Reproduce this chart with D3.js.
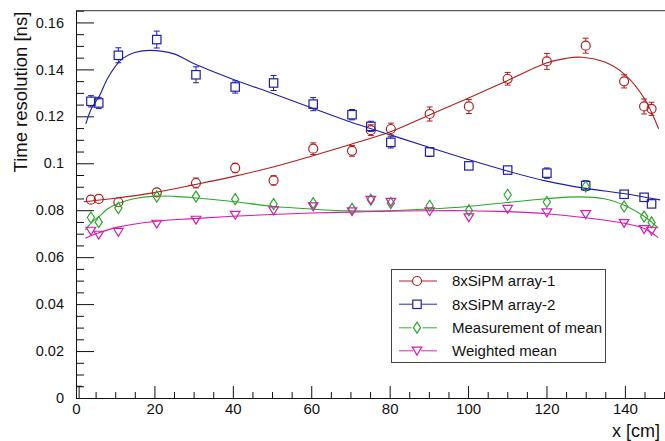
<!DOCTYPE html>
<html>
<head>
<meta charset="utf-8">
<script src="https://cdn.jsdelivr.net/npm/d3@7"></script>
<style>
body{margin:0;background:#fff;}
svg{display:block;font-family:"Liberation Sans",Arial,sans-serif;}
</style>
</head>
<body>
<svg width="665" height="441"></svg>
<script>

// positions along the bar [cm]
var xPos=[3.8,5.8,10.8,20.6,30.6,40.6,50.4,60.5,70.4,75.2,80.3,90.2,100.2,110.1,120.1,130,139.8,144.9,146.8];

// time resolution [ns]
var array1=[0.0845,0.0848,0.0834,0.0876,0.0916,0.0980,0.0927,0.1062,0.1053,0.1141,0.1146,0.1210,0.1242,0.1360,0.1434,0.1501,0.1349,0.1242,0.1232];
var array1Err=[0.0012,0.0012,0.0013,0.0016,0.0021,0.0020,0.0020,0.0025,0.0023,0.0023,0.0025,0.0030,0.0030,0.0027,0.0034,0.0032,0.0028,0.0032,0.0028];
var array2=[0.1264,0.1257,0.1460,0.1527,0.1377,0.1325,0.1342,0.1252,0.1207,0.1157,0.1089,0.1048,0.0989,0.0971,0.0958,0.0905,0.0868,0.0855,0.0827];
var array2Err=[0.0024,0.0024,0.0032,0.0036,0.0034,0.0026,0.0032,0.0028,0.0022,0.0022,0.0024,0.0019,0.0017,0.0017,0.0022,0.0021,0.0017,0.0017,0.0015];
var meanMeas=[0.0769,0.0749,0.0809,0.0858,0.0858,0.0847,0.0826,0.0830,0.0806,0.0845,0.0830,0.0819,0.0799,0.0866,0.0835,0.0901,0.0816,0.0773,0.0748];
var meanMeasErr=[0.0010,0.0010,0.0012,0.0012,0.0012,0.0010,0.0012,0.0012,0.0010,0.0010,0.0012,0.0012,0.0010,0.0013,0.0012,0.0014,0.0012,0.0010,0.0010];
var weighted=[0.0712,0.0695,0.0707,0.0742,0.0759,0.0780,0.0799,0.0816,0.0795,0.0844,0.0835,0.0795,0.0769,0.0805,0.0790,0.0783,0.0745,0.0719,0.0712];
var weightedErr=[0.0004,0.0004,0.0004,0.0004,0.0004,0.0004,0.0004,0.0004,0.0004,0.0004,0.0004,0.0004,0.0004,0.0004,0.0004,0.0004,0.0004,0.0004,0.0004];

// fitted curves
var fit1=[[2,0.0836],[10,0.0851],[20,0.0875],[30,0.0908],[40,0.0943],[50,0.0983],[60,0.1030],[70,0.1080],[80,0.1133],[90,0.1205],[100,0.1277],[110,0.1352],[120,0.1427],[125,0.1447],[129,0.1452],[135,0.1430],[140,0.1378],[145,0.1275],[148.6,0.1147]];
var fit2=[[2.5,0.1168],[4,0.1235],[6,0.1288],[8,0.1360],[10,0.1412],[12,0.1448],[15,0.1472],[19,0.1481],[25,0.1466],[30,0.1425],[40,0.1358],[50,0.1298],[60,0.1237],[70,0.1176],[80,0.1122],[90,0.1068],[100,0.1016],[110,0.0967],[120,0.0924],[130,0.0893],[140,0.0870],[149,0.0844]];
var fitMean=[[2.4,0.0716],[4,0.0748],[6,0.0775],[8,0.0805],[10.6,0.0828],[15,0.0850],[20,0.0860],[25,0.0859],[30,0.0853],[40,0.0837],[50,0.0817],[60,0.0805],[70,0.0797],[80,0.0798],[90,0.0805],[100,0.0816],[110,0.0833],[120,0.0849],[128,0.0857],[135,0.0848],[140,0.0820],[145,0.0773],[148.5,0.0724]];
var fitWeighted=[[2.4,0.0681],[6,0.0705],[10.6,0.0728],[20,0.0752],[30,0.0764],[40,0.0774],[50,0.0782],[60,0.0788],[70,0.0792],[80,0.0796],[90,0.0798],[100,0.0798],[110,0.0794],[120,0.0785],[130,0.0768],[140,0.0744],[145,0.0722],[148.5,0.0683]];

// lone error bar sitting on the x axis
var strayX=[0.8], strayY=[0], strayErr=[0.005];

var xTicks=[0,20,40,60,80,100,120,140];
var xLabels=["0","20","40","60","80","100","120","140"];
var yTicks=[0,0.02,0.04,0.06,0.08,0.1,0.12,0.14,0.16];
var yLabels=["0","0.02","0.04","0.06","0.08","0.1","0.12","0.14","0.16"];

var names=["8xSiPM array-1","8xSiPM array-2","Measurement of mean","Weighted mean"];
var colors=["#b01e1e","#1e1eaa","#2aa82a","#d61ab0"];

var svg=d3.select("svg");
var x=d3.scaleLinear().domain([0,151]).range([76,76+151*3.9207]);
var y=d3.scaleLinear().domain([0,0.165]).range([398,10.7]);

//minor ticks
var xMinor=d3.range(5,151,5).filter(function(v){return v%20!=0;});
var yMinor=d3.range(0,0.1651,0.005).filter(function(v){return Math.abs(v/0.02-Math.round(v/0.02))>0.01;});

svg.append("g")
  .attr("transform","translate(0,398)")
  .call(d3.axisBottom(x).tickValues(xMinor).tickSize(-6).tickSizeOuter(0).tickFormat(""))
  .call(function(g){g.select(".domain").remove();});
svg.append("g")
  .attr("transform","translate(76,0)")
  .call(d3.axisLeft(y).tickValues(yMinor).tickSize(-8).tickSizeOuter(0).tickFormat(""))
  .call(function(g){g.select(".domain").remove();});

var xa=svg.append("g")
  .attr("transform","translate(0,398)")
  .call(d3.axisBottom(x).tickValues(xTicks).tickSize(-12).tickSizeOuter(0).tickPadding(5)
    .tickFormat(function(d,i){return xLabels[i];}));
var ya=svg.append("g")
  .attr("transform","translate(76,0)")
  .call(d3.axisLeft(y).tickValues(yTicks).tickSize(-18).tickSizeOuter(0).tickPadding(12)
    .tickFormat(function(d,i){return yLabels[i];}));

svg.selectAll(".tick line").attr("stroke","#111");
svg.selectAll(".domain").attr("stroke","#111");
svg.selectAll(".tick text").attr("fill","#111").style("font-family","'Liberation Sans',Arial,sans-serif");
xa.selectAll(".tick text").style("font-size","15px");
ya.selectAll(".tick text").style("font-size","14.5px");

// top frame
svg.append("line")
  .attr("x1",x(0)).attr("x2",x(151))
  .attr("y1",y(0.165)).attr("y2",y(0.165))
  .attr("stroke","#333");

// titles
svg.append("text")
  .attr("transform","translate(27,"+(y(0.165)+1)+") rotate(-90)")
  .attr("text-anchor","end")
  .style("font-size","18.5px")
  .attr("fill","#111")
  .text("Time resolution [ns]");
svg.append("text")
  .attr("x",660).attr("y",437)
  .attr("text-anchor","end")
  .style("font-size","18px")
  .attr("fill","#111")
  .text("x [cm]");

// markers
var shapes=[
  {half:4.5, draw:function(s){s.append("circle").attr("r",4.5);}},
  {half:4.2, draw:function(s){s.append("rect").attr("x",-4.2).attr("y",-4.2).attr("width",8.4).attr("height",8.4);}},
  {half:5.5, draw:function(s){s.append("path").attr("d","M0,-5.5L3.6,0L0,5.5L-3.6,0Z");}},
  {half:4, draw:function(s){s.append("path").attr("d","M-4.8,-3.6L4.8,-3.6L0,4.3Z");}}
];

var line=d3.line()
  .curve(d3.curveCatmullRom)
  .x(function(d){return x(d[0]);})
  .y(function(d){return y(d[1]);});

var fits=[fit1,fit2,fitMean,fitWeighted];
var series=[[array1,array1Err],[array2,array2Err],[meanMeas,meanMeasErr],[weighted,weightedErr]];

fits.forEach(function(f,k){
  svg.append("path")
    .attr("d",line(f))
    .attr("fill","none")
    .attr("stroke",colors[k])
    .attr("stroke-width",1.1);
});

function errorBar(g,px,py,pe,half,col){
  var yc=y(py), yt=y(py+pe), yb=y(py-pe);
  if(yc-half>yt){
    g.append("line").attr("x1",x(px)).attr("x2",x(px)).attr("y1",yt).attr("y2",yc-half).attr("stroke",col);
    g.append("line").attr("x1",x(px)-3).attr("x2",x(px)+3).attr("y1",yt).attr("y2",yt).attr("stroke",col);
  }
  if(yc+half<yb){
    g.append("line").attr("x1",x(px)).attr("x2",x(px)).attr("y1",yc+half).attr("y2",yb).attr("stroke",col);
    g.append("line").attr("x1",x(px)-3).attr("x2",x(px)+3).attr("y1",yb).attr("y2",yb).attr("stroke",col);
  }
}

series.forEach(function(s,k){
  var g=svg.append("g");
  xPos.forEach(function(px,i){
    errorBar(g,px,s[0][i],s[1][i],shapes[k].half,colors[k]);
    var m=g.append("g")
      .attr("transform","translate("+x(px)+","+y(s[0][i])+")")
      .attr("fill","none")
      .attr("stroke",colors[k])
      .attr("stroke-width",1.2);
    shapes[k].draw(m);
  });
});

// stray bar, only the upper half shows
var sg=svg.append("g");
strayX.forEach(function(px,i){
  sg.append("line").attr("x1",x(px)).attr("x2",x(px)).attr("y1",y(strayY[i]+strayErr[i])).attr("y2",y(strayY[i])).attr("stroke","#111");
  sg.append("line").attr("x1",x(px)-3).attr("x2",x(px)+3).attr("y1",y(strayY[i]+strayErr[i])).attr("y2",y(strayY[i]+strayErr[i])).attr("stroke","#111");
});

// legend
var leg=svg.append("g");
leg.append("rect")
  .attr("x",391.5).attr("y",269.5).attr("width",214).attr("height",93)
  .attr("fill","#fff").attr("stroke","#444");
var rowY=[281,304.3,327.7,350.7];
names.forEach(function(n,k){
  var r=leg.append("g").attr("transform","translate(417,"+rowY[k]+")");
  r.append("line").attr("x1",-18).attr("x2",-shapes[k].half).attr("stroke",colors[k]).attr("stroke-opacity",0.65).attr("stroke-width",1.5);
  r.append("line").attr("x1",shapes[k].half).attr("x2",20).attr("stroke",colors[k]).attr("stroke-opacity",0.65).attr("stroke-width",1.5);
  var m=r.append("g").attr("fill","none").attr("stroke",colors[k]).attr("stroke-width",1.2);
  shapes[k].draw(m);
  leg.append("text")
    .attr("x",452).attr("y",rowY[k]).attr("dy","0.35em")
    .style("font-size","15px").attr("fill","#111")
    .text(n);
});

</script>
</body>
</html>
